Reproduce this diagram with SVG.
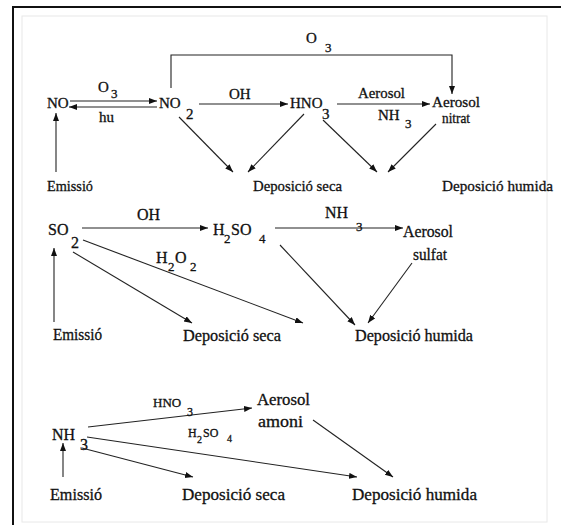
<svg xmlns="http://www.w3.org/2000/svg" width="561" height="525" viewBox="0 0 561 525">
<style>
text{font-family:'Liberation Serif','DejaVu Serif','Times New Roman',serif;fill:#111;stroke:#111;stroke-width:0.3}
.a{font-size:15px}
.b{font-size:16px}
.c{font-size:17px}
.s{font-size:13px}
.t{font-size:12px}
.u{font-size:10px}
.ln{stroke:#222;stroke-width:1.1;fill:none;marker-end:url(#ah)}
</style>
<defs>
<marker id="ah" markerUnits="userSpaceOnUse" markerWidth="9" markerHeight="7" refX="8" refY="3" orient="auto">
<path d="M0,0 L8,3 L0,6 z" fill="#111"/>
</marker>
</defs>
<rect width="561" height="525" fill="#fff"/>
<rect x="22" y="16" width="525" height="506" fill="none" stroke="#e8e8e8" stroke-width="1"/>
<path d="M13,525 V7 H561" fill="none" stroke="#111" stroke-width="2"/>

<g id="connectors">
<line class="ln" x1="70" y1="101" x2="157" y2="101"/>
<line class="ln" x1="157" y1="107" x2="69" y2="107"/>
<line class="ln" x1="56" y1="172" x2="56" y2="113"/>
<path class="ln" d="M171,88 V55 H452 V94"/>
<line class="ln" x1="199" y1="104" x2="288" y2="104"/>
<line class="ln" x1="337" y1="104" x2="430" y2="104"/>
<line class="ln" x1="179" y1="117" x2="233" y2="172"/>
<line class="ln" x1="304" y1="114" x2="248" y2="172"/>
<line class="ln" x1="323" y1="120" x2="377" y2="172"/>
<line class="ln" x1="436" y1="124" x2="388" y2="172"/>

<line class="ln" x1="82" y1="228" x2="208" y2="228"/>
<line class="ln" x1="275" y1="228" x2="403" y2="228"/>
<line class="ln" x1="54" y1="322" x2="54" y2="248"/>
<line class="ln" x1="73" y1="252" x2="192" y2="323"/>
<line class="ln" x1="83" y1="240" x2="303" y2="323"/>
<line class="ln" x1="280" y1="245" x2="355" y2="325"/>
<line class="ln" x1="412" y1="263" x2="368" y2="323"/>

<line class="ln" x1="88" y1="427" x2="252" y2="408"/>
<line class="ln" x1="87" y1="437" x2="357" y2="477"/>
<line class="ln" x1="82" y1="448" x2="193" y2="477"/>
<line class="ln" x1="63" y1="477" x2="63" y2="443"/>
<line class="ln" x1="313" y1="420" x2="393" y2="477"/>
</g>

<g id="labels">
<text class="a" x="98" y="92">O</text><text class="s" x="111" y="98">3</text>
<text class="a" x="99" y="122">hu</text>
<text class="a" x="306" y="43">O</text><text class="s" x="325" y="52">3</text>
<text class="a" x="229" y="99">OH</text>
<text class="a" x="358" y="98" textLength="47" lengthAdjust="spacingAndGlyphs">Aerosol</text>
<text class="a" x="378" y="120">NH</text><text class="s" x="405" y="128">3</text>
<text class="b" x="137" y="220">OH</text>
<text class="b" x="325" y="218">NH</text><text class="s" x="356" y="231">3</text>
<text class="b" x="156" y="263">H</text><text class="s" x="168" y="271">2</text><text class="b" x="175" y="263">O</text><text class="s" x="190" y="271">2</text>
<text class="s" x="153" y="407">HNO</text><text class="t" x="187" y="416">3</text>
<text class="t" x="188" y="437">H</text><text class="u" x="197" y="443">2</text><text class="t" x="203" y="437">SO</text><text class="u" x="227" y="442">4</text>
</g>

<g id="no"><text class="a" x="47" y="108">NO</text></g>
<g id="no2"><text class="a" x="159" y="108">NO</text><text class="a" x="186" y="119">2</text></g>
<g id="hno3"><text class="a" x="290" y="108">HNO</text><text class="a" x="322" y="119">3</text></g>
<g id="aerosol-nitrat"><text class="a" x="432" y="107" textLength="48" lengthAdjust="spacingAndGlyphs">Aerosol</text><text class="a" x="442" y="123" textLength="28" lengthAdjust="spacingAndGlyphs">nitrat</text></g>
<g id="emissio-1"><text class="a" x="47" y="191" textLength="46" lengthAdjust="spacingAndGlyphs">Emissió</text></g>
<g id="dep-seca-1"><text class="a" x="253" y="191" textLength="89" lengthAdjust="spacingAndGlyphs">Deposició seca</text></g>
<g id="dep-humida-1"><text class="a" x="442" y="191" textLength="111" lengthAdjust="spacingAndGlyphs">Deposició humida</text></g>

<g id="so2"><text class="b" x="48" y="235">SO</text><text class="b" x="71" y="248">2</text></g>
<g id="h2so4"><text class="b" x="213" y="235">H</text><text class="s" x="224" y="243">2</text><text class="b" x="231" y="235">SO</text><text class="s" x="259" y="243">4</text></g>
<g id="aerosol-sulfat"><text class="b" x="403" y="237" textLength="50" lengthAdjust="spacingAndGlyphs">Aerosol</text><text class="b" x="413" y="260" textLength="34" lengthAdjust="spacingAndGlyphs">sulfat</text></g>
<g id="emissio-2"><text class="b" x="53" y="340" textLength="49" lengthAdjust="spacingAndGlyphs">Emissió</text></g>
<g id="dep-seca-2"><text class="b" x="183" y="341" textLength="98" lengthAdjust="spacingAndGlyphs">Deposició seca</text></g>
<g id="dep-humida-2"><text class="b" x="355" y="341" textLength="118" lengthAdjust="spacingAndGlyphs">Deposició humida</text></g>

<g id="nh3"><text class="b" x="52" y="440">NH</text><text class="b" x="80" y="450">3</text></g>
<g id="aerosol-amoni"><text class="b" x="257" y="405" textLength="53" lengthAdjust="spacingAndGlyphs">Aerosol</text><text class="b" x="258" y="427" textLength="45" lengthAdjust="spacingAndGlyphs">amoni</text></g>
<g id="emissio-3"><text class="c" x="50" y="500" textLength="52" lengthAdjust="spacingAndGlyphs">Emissió</text></g>
<g id="dep-seca-3"><text class="c" x="182" y="500" textLength="103" lengthAdjust="spacingAndGlyphs">Deposició seca</text></g>
<g id="dep-humida-3"><text class="c" x="352" y="500" textLength="125" lengthAdjust="spacingAndGlyphs">Deposició humida</text></g>
</svg>
